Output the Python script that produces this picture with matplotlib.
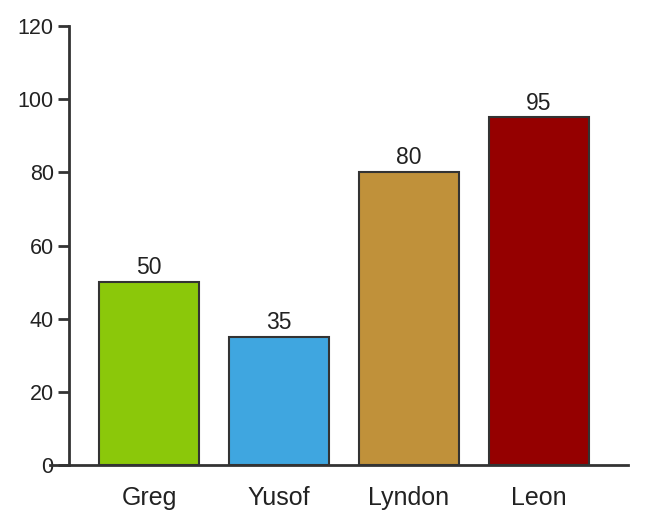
import matplotlib
matplotlib.use('Agg')
import matplotlib.pyplot as plt

# ========== DATA ==========
names = ["Greg", "Yusof", "Lyndon", "Leon"]
scores = [50, 35, 80, 95]
colors = ["#8BC80A", "#3FA6E0", "#C0913A", "#950000"]
y_ticks = [0, 20, 40, 60, 80, 100, 120]

plt.rcParams['font.family'] = ['Liberation Sans', 'DejaVu Sans']

W, H = 649, 530
fig = plt.figure(figsize=(W / 100, H / 100), dpi=100)

# axes box in pixels: x from 50 to 628, y from 26 (top) to 465 (zero line)
ax = fig.add_axes([50 / W, (H - 465) / H, (628 - 50) / W, (465 - 26) / H])

step = 130.0
x = list(range(len(names)))
ax.bar(x, scores, width=100 / step, color=colors, edgecolor="#333333", linewidth=1.5, zorder=2)

for xi, v in zip(x, scores):
    ax.text(xi, v + 0.8, str(v), ha='center', va='bottom', fontsize=16.5, color="#222222")

ax.set_xlim((50 - 149) / step, (628 - 149) / step)
ax.set_ylim(0, 120)

ax.spines['top'].set_visible(False)
ax.spines['right'].set_visible(False)
ax.spines['left'].set_position(('data', (69 - 149) / step))
for s in ('left', 'bottom'):
    ax.spines[s].set_color("#333333")
    ax.spines[s].set_linewidth(2)
ax.spines['bottom'].set_zorder(3)

ax.set_yticks(y_ticks)
ax.set_xticks(x)
ax.set_xticklabels(names, fontsize=18, color="#222222")
ax.tick_params(axis='x', length=0, pad=15)
ax.tick_params(axis='y', length=8, width=2, color="#333333", labelsize=15.5,
               labelcolor="#222222", pad=3)

fig.savefig("out.png", dpi=100)
